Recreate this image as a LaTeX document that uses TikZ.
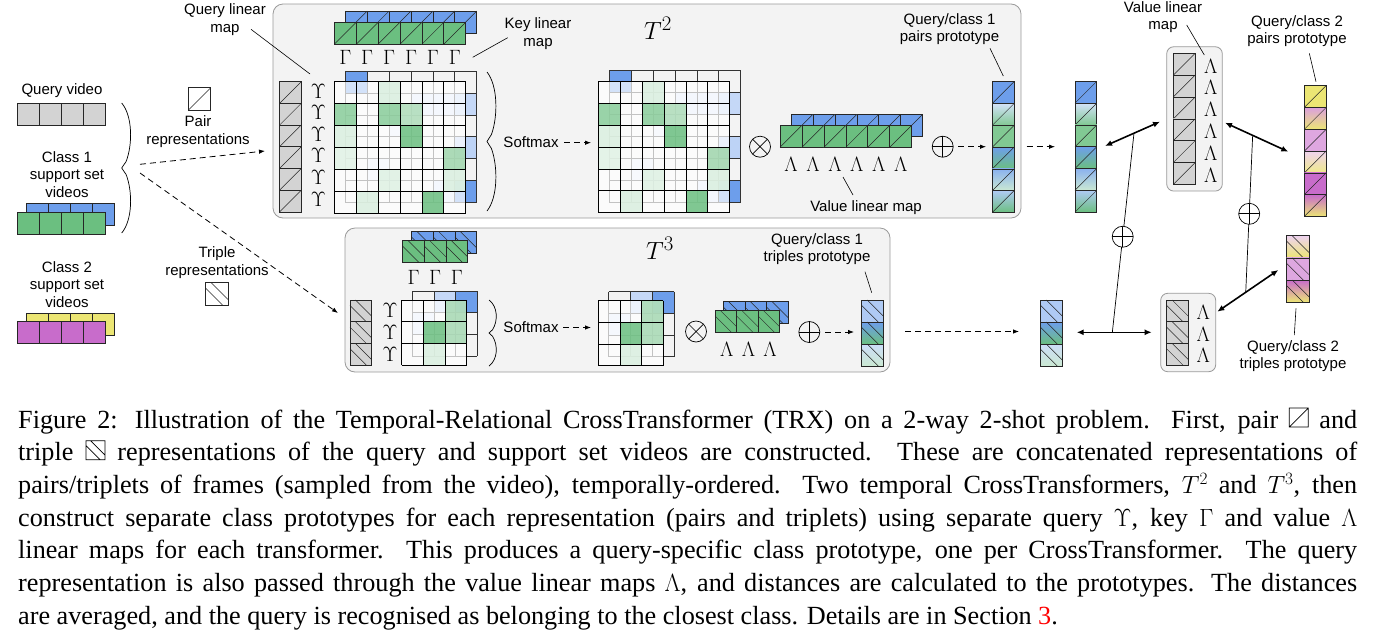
\documentclass[tikz,border=0pt]{standalone}
\usepackage{fontspec}
\setmainfont{Liberation Serif}
\newfontfamily\labfont{Liberation Sans}
\usetikzlibrary{arrows.meta,calc}

\definecolor{cblue}{HTML}{6D9EEB}
\definecolor{cgreen}{HTML}{6BBF80}
\definecolor{cgray}{HTML}{D3D3D3}
\definecolor{cyel}{HTML}{ECE674}
\definecolor{cmag}{HTML}{C86CCB}
\definecolor{boxfill}{HTML}{F3F3F3}
\definecolor{boxline}{HTML}{9A9A9A}

\tikzset{
 cellst/.style={draw=black!85,line width=0.7pt},
 hatchst/.style={draw=black!85,line width=0.5pt},
 gridst/.style={draw=black!80,line width=0.7pt},
 lbl/.style={font=\labfont\fontsize{15}{17.5}\selectfont, align=center, inner sep=0pt},
 gk/.style={font=\fontsize{22.5}{22.5}\selectfont, inner sep=0pt},
 leader/.style={line width=0.6pt},
 dasharr/.style={dash pattern=on 6pt off 4pt, line width=0.8pt, -{Latex[length=6pt,width=4.5pt]}},
 dbl/.style={line width=1.6pt, {Latex[length=7pt,width=6pt]}-{Latex[length=7pt,width=6pt]}},
 thinl/.style={line width=0.7pt},
 tbox/.style={draw=boxline, fill=boxfill, line width=0.8pt, rounded corners=10pt, inner sep=0pt},
 vbox/.style={draw=boxline, fill=boxfill, line width=0.8pt, rounded corners=7pt, inner sep=0pt},
 opl/.style={circle, draw, line width=0.7pt, minimum size=21pt, inner sep=0pt,
   path picture={\draw[line width=0.7pt] (path picture bounding box.north) -- (path picture bounding box.south) (path picture bounding box.west) -- (path picture bounding box.east);}},
 otm/.style={circle, draw, line width=0.7pt, minimum size=21pt, inner sep=0pt,
   path picture={\draw[line width=0.7pt] (path picture bounding box.north west) -- (path picture bounding box.south east) (path picture bounding box.north east) -- (path picture bounding box.south west);}},
 captxt/.style={anchor=base west, inner sep=0pt, font=\fontsize{26.2}{32.7}\selectfont},
}

% pair cell: x y size topcolor bottomcolor
\newcommand\mypc[5]{%
  \path[top color=#4,bottom color=#5] (#1,#2) rectangle ++(#3,#3);
  \draw[cellst] (#1,#2) rectangle ++(#3,#3);
  \draw[hatchst] (#1,#2+#3) -- ++(#3,-#3);}
% triple cell
\newcommand\mytc[5]{%
  \path[top color=#4,bottom color=#5] (#1,#2) rectangle ++(#3,#3);
  \draw[cellst] (#1,#2) rectangle ++(#3,#3);
  \draw[hatchst] (#1,#2+0.25*#3) -- ++(0.75*#3,0.75*#3) (#1+0.25*#3,#2) -- ++(0.75*#3,0.75*#3);}
% curly brace: x, top y, bottom y, bulge
\newcommand\mybrace[4]{%
  \draw[line width=0.7pt] (#1,#2) .. controls (#1+#4,#2+0.1*#3-0.1*#2) and (#1+#4,#2+0.32*#3-0.32*#2) .. (#1+0.4*#4,#2+0.45*#3-0.45*#2)
   -- (#1,#2+0.5*#3-0.5*#2) -- (#1+0.4*#4,#2+0.55*#3-0.55*#2)
   .. controls (#1+#4,#2+0.68*#3-0.68*#2) and (#1+#4,#2+0.9*#3-0.9*#2) .. (#1,#3);}

\newcommand\attnsix{%
 \begin{scope}[shift={(11,-10.6)}]
  \foreach \cc/\rr/\fcol in {0/0/cblue,3/1/cblue!25,4/1/cblue!25,5/1/cblue!40,2/2/cblue!18,5/3/cblue!45,1/4/cblue!18,4/5/cblue!25,5/5/cblue}
   {\fill[\fcol] (\cc*21.9,\rr*21.9) rectangle ++(21.9,21.9);}
  \foreach \k in {0,...,6}
   {\draw[gridst] (\k*21.9,0) -- (\k*21.9,131.4); \draw[gridst] (0,\k*21.9) -- (131.4,\k*21.9);}
 \end{scope}
 \fill[white,opacity=0.7] (0,0) rectangle (131.4,131.4);
 \foreach \cc/\rr/\fcol in {2/0/cgreen!25,0/1/cgreen!80,2/1/cgreen!80,3/1/cgreen!55,0/2/cgreen!25,3/2/cgreen,0/3/cgreen!20,5/3/cgreen!65,2/4/cgreen!22,5/4/cgreen!25,1/5/cgreen!25,4/5/cgreen}
   {\fill[\fcol,opacity=0.85] (\cc*21.9,\rr*21.9) rectangle ++(21.9,21.9);}
 \foreach \k in {0,...,6}
   {\draw[gridst,draw=black] (\k*21.9,0) -- (\k*21.9,131.4); \draw[gridst,draw=black] (0,\k*21.9) -- (131.4,\k*21.9);}
}
\newcommand\attnthree{%
 \begin{scope}[shift={(10.5,-9)}]
  \foreach \cc/\rr/\fcol in {1/0/cblue!40,2/0/cblue,0/1/cblue!22}
   {\fill[\fcol] (\cc*21.7,\rr*21.7) rectangle ++(21.7,21.7);}
  \foreach \k in {0,...,3}
   {\draw[gridst] (\k*21.7,0) -- (\k*21.7,65.1); \draw[gridst] (0,\k*21.7) -- (65.1,\k*21.7);}
 \end{scope}
 \fill[white,opacity=0.7] (0,0) rectangle (65.1,65.1);
 \foreach \cc/\rr/\fcol in {2/0/cgreen!60,1/1/cgreen,2/1/cgreen!60,1/2/cgreen!25}
   {\fill[\fcol,opacity=0.85] (\cc*21.7,\rr*21.7) rectangle ++(21.7,21.7);}
 \foreach \k in {0,...,3}
   {\draw[gridst,draw=black] (\k*21.7,0) -- (\k*21.7,65.1); \draw[gridst,draw=black] (0,\k*21.7) -- (65.1,\k*21.7);}
}

\newcommand\pairico{\tikz[x=1pt,y=1pt,baseline=-1pt]{\draw[line width=0.7pt] (0,0) rectangle (19,19) (0,0) -- (19,19);}}
\newcommand\tripico{\tikz[x=1pt,y=1pt,baseline=-1pt]{\draw[line width=0.7pt] (0,0) rectangle (19,19) (0,14.25) -- (14.25,0) (4.75,19) -- (19,4.75);}}

\begin{document}
\begin{tikzpicture}[x=1pt,y=-1pt]
\useasboundingbox (0,0) rectangle (1373,630);
\fill[white] (0,0) rectangle (1373,630);

% ---------------- left column
\node[lbl] (qvl) at (62,91) {Query video};
\foreach \i in {0,...,3} {\draw[cellst,fill=cgray] (17.7+\i*22,103.3) rectangle ++(22,22);}
\node[lbl] (c1l) at (67,174.5) {Class 1\\support set\\videos};
\foreach \i in {0,...,3} {\draw[cellst,fill=cblue] (26.7+\i*22,203.3) rectangle ++(22,22);}
\foreach \i in {0,...,3} {\draw[cellst,fill=cgreen] (17.7+\i*22,212.3) rectangle ++(22,22);}
\node[lbl] (c2l) at (67,284.5) {Class 2\\support set\\videos};
\foreach \i in {0,...,3} {\draw[cellst,fill=cyel] (26.7+\i*22,313.3) rectangle ++(22,22);}
\foreach \i in {0,...,3} {\draw[cellst,fill=cmag] (17.7+\i*22,321.7) rectangle ++(22,22);}

\mybrace{121.7}{103}{233}{11}

\draw[cellst] (188.3,87.7) rectangle ++(22.4,22.4);
\draw[hatchst] (188.3,110.1) -- ++(22.4,-22.4);
\node[lbl] (pairl) at (198,131.7) {Pair\\representations};
\node[lbl] (tripl) at (217,262.5) {Triple\\representations};
\mytc{205.7}{282.7}{22.3}{white}{white}

\coordinate (da1s) at (140,164.3); \coordinate (da1e) at (265,151);
\draw[dasharr] (da1s) -- (da1e);
\coordinate (da2s) at (140,173); \coordinate (da2e) at (338,313);
\draw[dasharr] (da2s) -- (da2e);

% ---------------- T2 box
\node[tbox, minimum width=748pt, minimum height=214pt] (t2box) at (647,111) {};
\node[lbl] (qlm) at (225,19.5) {Query linear\\map};
\coordinate (qlm1) at (251,29.3); \coordinate (qlm2) at (310,74);
\draw[leader] (qlm1) -- (qlm2);

\foreach \i in {0,...,5} {\mypc{279.5}{81.7+\i*21.7}{21.7}{cgray}{cgray}}
\foreach \i in {0,...,5} {\node[gk] (ups\i) at (318.3,91+\i*21.6) {$\Upsilon$};}
\foreach \i in {0,...,5} {\mypc{345.3+\i*21.9}{11}{21.9}{cblue}{cblue}}
\foreach \i in {0,...,5} {\mypc{334.3+\i*21.9}{22.3}{21.9}{cgreen}{cgreen}}
\foreach \i in {0,...,5} {\node[gk] (gam\i) at (345.3+\i*21.9,57) {$\Gamma$};}
\node[lbl] (klm) at (538,33.5) {Key linear\\map};
\coordinate (klm1) at (472.7,57.3); \coordinate (klm2) at (507.7,37.7);
\draw[leader] (klm1) -- (klm2);

\begin{scope}[shift={(334.3,81.7)}] \attnsix \end{scope}
\begin{scope}[shift={(598.3,81.3)}] \attnsix \end{scope}

\mybrace{487}{72}{211}{11}
\node[lbl] (sm1) at (531,142) {Softmax};
\coordinate (sa1) at (564,142.7); \coordinate (sa2) at (591,142.7);
\draw[dasharr] (sa1) -- (sa2);

\node (t2l) at (658,28) {\fontsize{31}{31}\selectfont$T^2$};

\node[otm] (ot1) at (760,146.7) {};
\foreach \i in {0,...,5} {\mypc{791+\i*21.95}{114.3}{21.95}{cblue}{cblue}}
\foreach \i in {0,...,5} {\mypc{780+\i*21.95}{125.3}{21.95}{cgreen}{cgreen}}
\foreach \i in {0,...,5} {\node[gk] (lam\i) at (791+\i*21.95,164) {$\Lambda$};}
\node[lbl] (vlm) at (866,208) {Value linear map};
\coordinate (vlm1) at (853,195); \coordinate (vlm2) at (843,177);
\draw[leader] (vlm1) -- (vlm2);

\node[opl] (op1) at (942.7,146.7) {};
\coordinate (pa1) at (958,146.7); \coordinate (pa2) at (986,146.7);
\draw[dasharr] (pa1) -- (pa2);

\foreach \i/\ta/\tb in {0/cblue/cblue,1/cblue!30/cgreen!85,2/cgreen!85/cgreen!85,3/cblue/cgreen,4/cblue!80/cgreen!35,5/cblue!55/cgreen}
 {\mypc{992.3}{81.7+\i*21.8}{21.8}{\ta}{\tb}}
\node[lbl] (p1l) at (949.5,29) {Query/class 1\\pairs prototype};
\coordinate (p1l1) at (990,48.3); \coordinate (p1l2) at (1003.3,76);
\draw[leader] (p1l1) -- (p1l2);
\coordinate (pb1) at (1026.7,146.7); \coordinate (pb2) at (1055,146.7);
\draw[dasharr] (pb1) -- (pb2);

% ---------------- T3 box
\node[tbox, minimum width=545pt, minimum height=144pt] (t3box) at (617.5,300) {};
\foreach \i in {0,...,2} {\mytc{411.7+\i*21.7}{231.7}{21.7}{cblue}{cblue}}
\foreach \i in {0,...,2} {\mytc{402.7+\i*21.7}{240.7}{21.7}{cgreen}{cgreen}}
\foreach \i in {0,...,2} {\node[gk] (gamb\i) at (413.5+\i*21.7,277) {$\Gamma$};}
\foreach \i in {0,...,2} {\mytc{350}{300+\i*21.7}{21.7}{cgray}{cgray}}
\foreach \i in {0,...,2} {\node[gk] (upsb\i) at (390,310.8+\i*21.7) {$\Upsilon$};}

\begin{scope}[shift={(401.7,300)}] \attnthree \end{scope}
\begin{scope}[shift={(598.3,300.7)}] \attnthree \end{scope}

\mybrace{489}{300}{366}{9}
\node[lbl] (sm2) at (531,327) {Softmax};
\coordinate (sb1) at (563,327.5); \coordinate (sb2) at (591,327.5);
\draw[dasharr] (sb1) -- (sb2);

\node (t3l) at (660,248) {\fontsize{31}{31}\selectfont$T^3$};

\node[otm] (ot2) at (696,331.5) {};
\foreach \i in {0,...,2} {\mytc{723.3+\i*21.7}{301.7}{21.7}{cblue}{cblue}}
\foreach \i in {0,...,2} {\mytc{715+\i*21.5}{310.5}{21.5}{cgreen}{cgreen}}
\foreach \i in {0,...,2} {\node[gk] (lamb\i) at (726.7+\i*21.7,349) {$\Lambda$};}
\node[opl] (op2) at (809.3,332) {};
\coordinate (pc1) at (825,332); \coordinate (pc2) at (854,332);
\draw[dasharr] (pc1) -- (pc2);

\foreach \i/\ta/\tb in {0/cblue!55/cblue!55,1/cblue/cgreen,2/cblue!35/cgreen!35}
 {\mytc{861.7}{300+\i*22}{22}{\ta}{\tb}}
\node[lbl] (p3l) at (817,249) {Query/class 1\\triples prototype};
\coordinate (p3l1) at (865,271.7); \coordinate (p3l2) at (871.7,292.7);
\draw[leader] (p3l1) -- (p3l2);

\coordinate (ld1) at (905,331.5); \coordinate (ld2) at (1019,331.5);
\draw[dasharr] (ld1) -- (ld2);

% ---------------- right part
\foreach \i/\ta/\tb in {0/cblue/cblue,1/cblue!30/cgreen!85,2/cgreen!85/cgreen!85,3/cblue/cgreen,4/cblue!80/cgreen!35,5/cblue!55/cgreen}
 {\mypc{1075}{81.3+\i*21.8}{21.8}{\ta}{\tb}}
\foreach \i/\ta/\tb in {0/cblue!55/cblue!55,1/cblue/cgreen,2/cblue!35/cgreen!35}
 {\mytc{1040.7}{300+\i*22}{22}{\ta}{\tb}}

\node[vbox, minimum width=55.6pt, minimum height=144.3pt] (vm1) at (1194.5,118.9) {};
\foreach \i in {0,...,5} {\mypc{1173.3}{53.3+\i*21.85}{21.85}{cgray}{cgray}}
\foreach \i in {0,...,5} {\node[gk] (lamc\i) at (1210.7,66+\i*21.85) {$\Lambda$};}
\node[lbl] (vlm2l) at (1163,17) {Value linear\\map};
\coordinate (vl1) at (1186.7,25); \coordinate (vl2) at (1204.3,55);
\draw[leader] (vl1) -- (vl2);

\node[vbox, minimum width=55pt, minimum height=78.4pt] (vm2) at (1188.2,332.5) {};
\foreach \i in {0,...,2} {\mytc{1166.7}{300+\i*21.7}{21.7}{cgray}{cgray}}
\foreach \i in {0,...,2} {\node[gk] (lamd\i) at (1203.3,312.5+\i*21.7) {$\Lambda$};}

\foreach \i/\ta/\tb in {0/cyel/cyel,1/cmag!65/cyel,2/cmag!60/cmag!60,3/cmag!30/cyel!85,4/cmag/cmag,5/cmag/cyel}
 {\mypc{1304.3}{85.7+\i*21.8}{21.8}{\ta}{\tb}}
\node[lbl] (p2l) at (1297,31) {Query/class 2\\pairs prototype};
\coordinate (p2l1) at (1309.3,53.3); \coordinate (p2l2) at (1316,81.7);
\draw[leader] (p2l1) -- (p2l2);

\foreach \i/\ta/\tb in {0/cmag!30/cyel,1/cmag!60/cmag!60,2/cmag/cyel}
 {\mytc{1286.7}{235.7+\i*22.2}{22.2}{\ta}{\tb}}
\node[lbl] (p4l) at (1293,356) {Query/class 2\\triples prototype};
\coordinate (p4l1) at (1296,308.3); \coordinate (p4l2) at (1294.3,335);
\draw[leader] (p4l1) -- (p4l2);

% double arrows and sums
\coordinate (dA1) at (1105,146); \coordinate (dA2) at (1160,121.7);
\coordinate (dB1) at (1225,122.7); \coordinate (dB2) at (1288.3,151.7);
\coordinate (dC1) at (1076.7,332.3); \coordinate (dC2) at (1151.7,332.3);
\coordinate (dD1) at (1217.3,311.7); \coordinate (dD2) at (1278.3,270);
\coordinate (mA) at ($(dA1)!0.527!(dA2)$);
\coordinate (mB) at ($(dB1)!0.437!(dB2)$);
\coordinate (mC) at ($(dC1)!0.475!(dC2)$);
\coordinate (mD) at ($(dD1)!0.466!(dD2)$);
\draw[thinl] (mA) -- (mC);
\draw[thinl] (mB) -- (mD);
\draw[dbl] (dA1) -- (dA2);
\draw[dbl] (dB1) -- (dB2);
\draw[dbl] (dC1) -- (dC2);
\draw[dbl] (dD1) -- (dD2);
\node[opl, fill=white] (opA) at ($(mA)!0.52!(mC)$) {};
\node[opl, fill=white] (opB) at ($(mB)!0.5!(mD)$) {};

% ---------------- caption
\node[captxt] (cap1) at (18,428) {\makebox[1339pt][s]{Figure 2: Illustration of the Temporal-Relational CrossTransformer (TRX) on a 2-way 2-shot problem. First, pair \pairico\ and}};
\node[captxt] (cap2) at (18,460.7) {\makebox[1339pt][s]{triple \tripico\ representations of the query and support set videos are constructed. These are concatenated representations of}};
\node[captxt] (cap3) at (18,493.4) {\makebox[1339pt][s]{pairs/triplets of frames (sampled from the video), temporally-ordered. Two temporal CrossTransformers, $T^2$ and $T^3$, then}};
\node[captxt] (cap4) at (18,526.1) {\makebox[1339pt][s]{construct separate class prototypes for each representation (pairs and triplets) using separate query $\Upsilon$, key $\Gamma$ and value $\Lambda$}};
\node[captxt] (cap5) at (18,558.8) {\makebox[1339pt][s]{linear maps for each transformer. This produces a query-specific class prototype, one per CrossTransformer. The query}};
\node[captxt] (cap6) at (18,591.5) {\makebox[1339pt][s]{representation is also passed through the value linear maps $\Lambda$, and distances are calculated to the prototypes. The distances}};
\node[captxt] (cap7) at (18,624.2) {are averaged, and the query is recognised as belonging to the closest class. Details are in Section \textcolor{red}{3}.};
\end{tikzpicture}
\end{document}
